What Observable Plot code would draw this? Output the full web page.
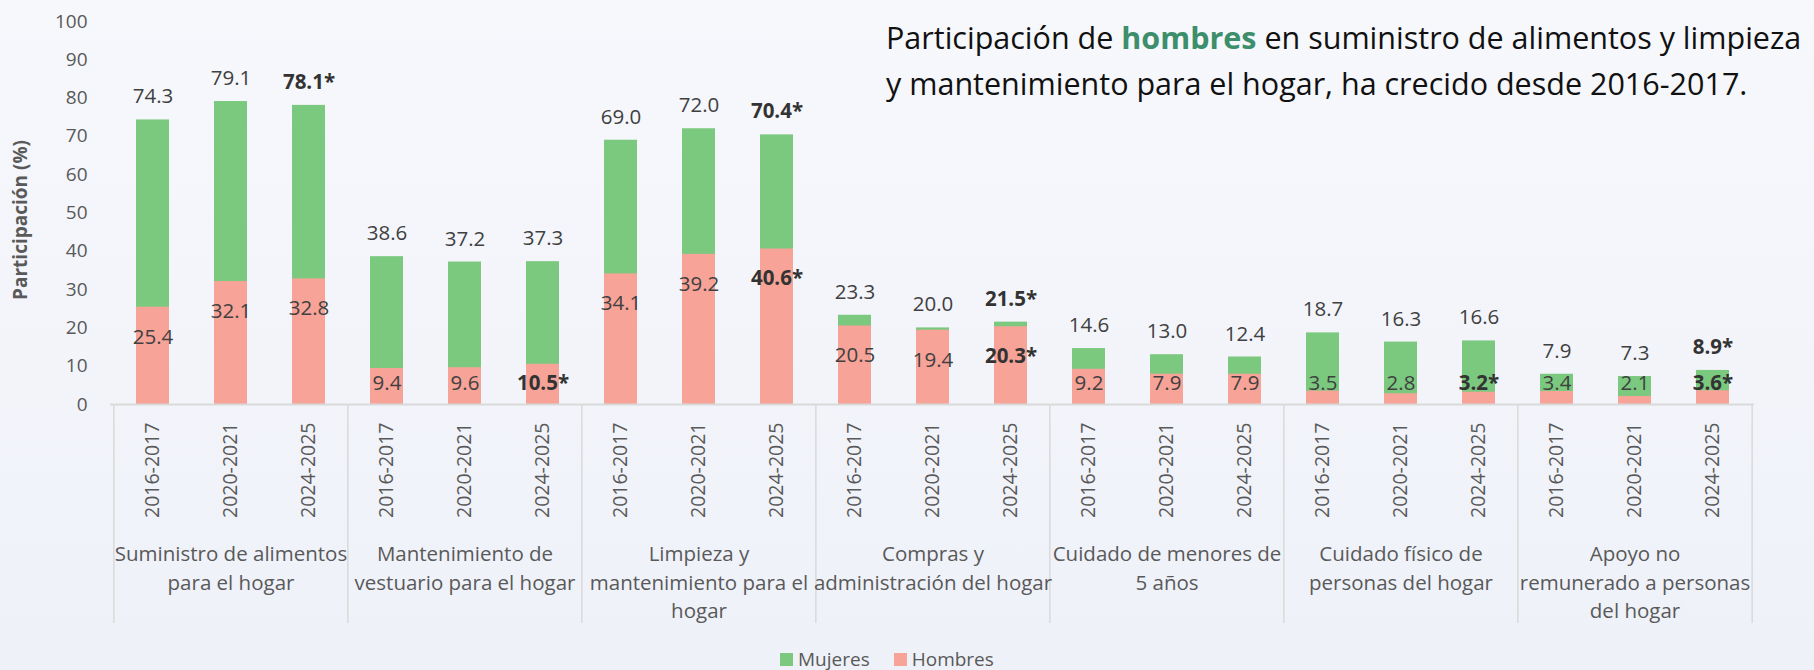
<!DOCTYPE html>
<html>
<head>
<meta charset="utf-8">
<script src="https://cdn.jsdelivr.net/npm/d3@7"></script>
<script src="https://cdn.jsdelivr.net/npm/@observablehq/plot@0.6"></script>
<style>
  html, body { margin: 0; padding: 0; }
  body { width: 1814px; height: 670px; overflow: hidden;
         background: linear-gradient(180deg, #f7f8fc 0%, #eef1f8 100%);
         font-family: "Open Sans", sans-serif; }
  #wrap { position: relative; width: 1814px; height: 670px; }
  #chart { position: absolute; left: 0; top: 0; }
  #title { position: absolute; left: 886px; top: 14px; font-size: 30.5px; line-height: 46px;
           color: #111; white-space: nowrap; }
  #title b { color: #3d8f6c; }
  #legend { position: absolute; left: 780px; top: 649px; font-size: 19px; line-height: 20px;
            color: #595959; white-space: nowrap; display: flex; align-items: center; }
  #legend .sw { display: inline-block; width: 13px; height: 13px; margin-right: 5px; }
  #legend .item { display: inline-flex; align-items: center; margin-right: 24px; }
</style>
</head>
<body>
<div id="wrap">
  <div id="chart"></div>
  <div id="title">Participación de <b>hombres</b> en suministro de alimentos y limpieza<br>y mantenimiento para el hogar, ha crecido desde 2016-2017.</div>
  <div id="legend"></div>
</div>
<script>
// ---- Data ----
const groups = [
  "Suministro de alimentos\npara el hogar",
  "Mantenimiento de\nvestuario para el hogar",
  "Limpieza y\nmantenimiento para el\nhogar",
  "Compras y\nadministración del hogar",
  "Cuidado de menores de\n5 años",
  "Cuidado físico de\npersonas del hogar",
  "Apoyo no\nremunerado a personas\ndel hogar"
];
const years = ["2016-2017", "2020-2021", "2024-2025"];
const mujeres = [74.3, 79.1, 78.1, 38.6, 37.2, 37.3, 69.0, 72.0, 70.4, 23.3, 20.0, 21.5, 14.6, 13.0, 12.4, 18.7, 16.3, 16.6, 7.9, 7.3, 8.9];
const hombres = [25.4, 32.1, 32.8, 9.4, 9.6, 10.5, 34.1, 39.2, 40.6, 20.5, 19.4, 20.3, 9.2, 7.9, 7.9, 3.5, 2.8, 3.2, 3.4, 2.1, 3.6];
const mujeresSig = [0,0,1, 0,0,0, 0,0,1, 0,0,1, 0,0,0, 0,0,0, 0,0,1];
const hombresSig = [0,0,0, 0,0,1, 0,0,1, 0,0,1, 0,0,0, 0,0,1, 0,0,1];
const yTicks = [0, 10, 20, 30, 40, 50, 60, 70, 80, 90, 100];
const seriesNames = ["Mujeres", "Hombres"];
const colors = ["#7bc97f", "#f7a398"];

// ---- Table ----
const rows = [];
groups.forEach((g, gi) => years.forEach((yr, yi) => {
  const i = gi * 3 + yi;
  rows.push({key: gi + "|" + yr, group: g, gi, year: yr, yi,
             m: mujeres[i], h: hombres[i], ms: !!mujeresSig[i], hs: !!hombresSig[i]});
}));

const W = 1814, H = 640, ML = 110, MR = 60, MT = 21, MB = 236;
const step = (W - ML - MR) / rows.length;
const pxPerUnit = (H - MT - MB) / 100;
const below = -219 / pxPerUnit;
const txt = "#404040", axisCol = "#595959", lineCol = "#d9d9d9";
const fmtM = d => d.m.toFixed(1) + (d.ms ? "*" : "");
const fmtH = d => d.h.toFixed(1) + (d.hs ? "*" : "");
const hLabelY = d => Math.max(d.h - 7.8, 5.5);

const plot = Plot.plot({
  width: W, height: H,
  marginLeft: ML, marginRight: MR, marginTop: MT, marginBottom: MB,
  style: {background: "transparent", fontFamily: "Open Sans, sans-serif", fontSize: "19px", overflow: "visible"},
  x: {type: "band", domain: rows.map(d => d.key), paddingInner: 0.58, paddingOuter: 0.29, axis: null},
  y: {domain: [0, 100], axis: null},
  marks: [
    Plot.axisY({ticks: yTicks, tickSize: 0, tickPadding: 23, color: axisCol, fontSize: 19, label: null}),
    Plot.text(["Participación (%)"], {frameAnchor: "left", textAnchor: "middle", dx: -90, dy: 7, rotate: -90, fontWeight: "bold", fontSize: 19, fill: axisCol}),
    Plot.barY(rows, {x: "key", y: "m", fill: colors[0]}),
    Plot.barY(rows, {x: "key", y: "h", fill: colors[1]}),
    Plot.ruleY([0], {stroke: lineCol, strokeWidth: 2}),
    Plot.ruleX(rows.filter(d => d.yi === 0), {x: "key", dx: -step / 2, y1: 0, y2: below, stroke: lineCol, strokeWidth: 1.5}),
    Plot.ruleX(rows.slice(-1), {x: "key", dx: step / 2, y1: 0, y2: below, stroke: lineCol, strokeWidth: 1.5}),
    // Mujeres labels
    Plot.text(rows.filter(d => !d.ms), {x: "key", y: "m", text: fmtM, dy: -23, fill: txt, fontSize: 20.5}),
    Plot.text(rows.filter(d => d.ms), {x: "key", y: "m", text: fmtM, dy: -23, fill: "#333", fontSize: 20.5, fontWeight: "bold"}),
    // Hombres labels
    Plot.text(rows.filter(d => !d.hs), {x: "key", y: hLabelY, text: fmtH, fill: txt, fontSize: 20.5}),
    Plot.text(rows.filter(d => d.hs), {x: "key", y: hLabelY, text: fmtH, fill: "#333", fontSize: 20.5, fontWeight: "bold"}),
    // Year labels
    Plot.text(rows, {x: "key", y: 0, text: "year", rotate: -90, textAnchor: "end", dy: 18, fill: axisCol, fontSize: 19.5}),
    // Group labels
    Plot.text(rows.filter(d => d.yi === 1), {x: "key", y: 0, text: "group", lineAnchor: "top", dy: 136, lineHeight: 1.4, fill: axisCol, fontSize: 20.5})
  ]
});
document.getElementById("chart").appendChild(plot);

// Legend
const leg = document.getElementById("legend");
seriesNames.forEach((n, i) => {
  const it = document.createElement("span");
  it.className = "item";
  it.innerHTML = `<span class="sw" style="background:${colors[i]}"></span>${n}`;
  leg.appendChild(it);
});
</script>
</body>
</html>
